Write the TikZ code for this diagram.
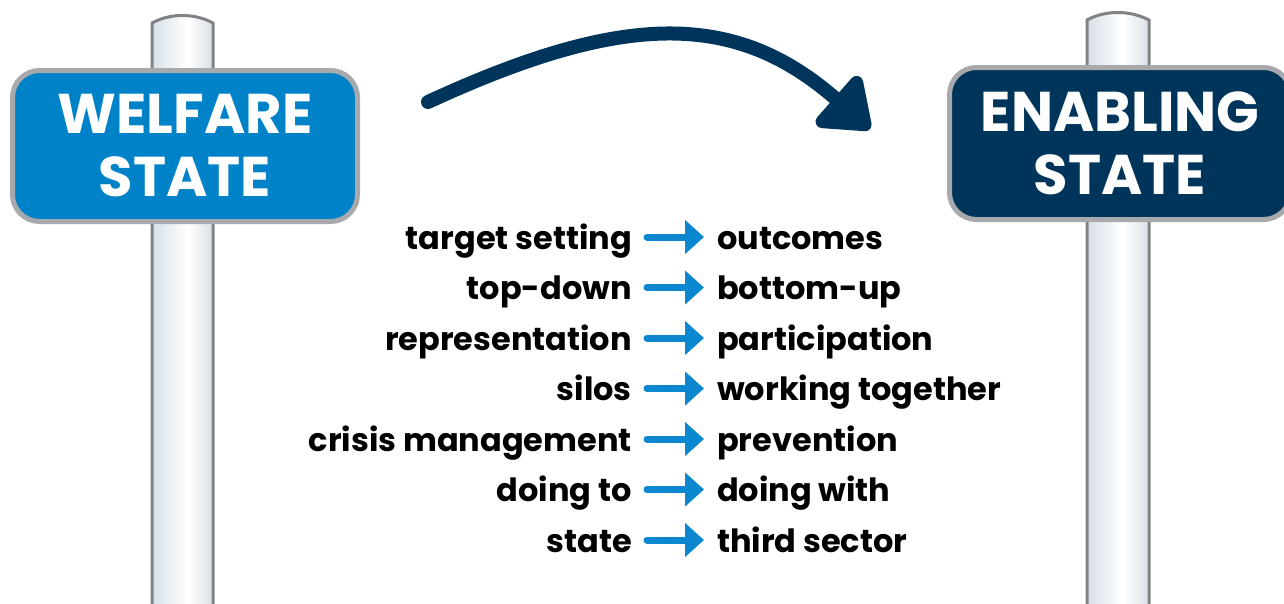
\documentclass[tikz,border=0pt]{standalone}
\usepackage{fontspec}
\setmainfont{Poppins}
\usepackage{tikz}
\usetikzlibrary{arrows.meta,positioning}

\definecolor{welfareblue}{HTML}{0082C8}
\definecolor{enablingnavy}{HTML}{00355B}
\definecolor{signgray}{HTML}{A7A9AC}
\definecolor{postedge}{HTML}{808285}
\definecolor{postblue}{HTML}{D8E1E7}
\definecolor{shiftblue}{HTML}{0A87CE}

\pgfdeclarehorizontalshading{postshade}{100bp}{color(0bp)=(postblue); color(25bp)=(postblue); color(54bp)=(white); color(75bp)=(postblue); color(100bp)=(postblue)}

\begin{document}
\begin{tikzpicture}[x=1pt, y=-1pt]
			\tikzstyle{Post}	= [shading=postshade, draw=postedge, line width=3]
			\tikzstyle{Sign}	= [draw=signgray, line width=5, rounded corners=27, align=center, text=white, inner sep=0pt,
						   font=\fontsize{56}{63}\selectfont\bfseries]
			\tikzstyle{Old}		= [anchor=base east, inner sep=0pt, text height=28, text depth=4, font=\fontsize{32}{36}\selectfont\bfseries]
			\tikzstyle{New}		= [anchor=base west, inner sep=0pt, text height=28, text depth=4, font=\fontsize{32}{36}\selectfont\bfseries]
			\tikzstyle{Shift}	= [shiftblue, line width=7, line cap=round, -{Triangle[length=19, width=33]}, shorten <=15, shorten >=13]
			\tikzstyle{Bend}	= [enablingnavy, line width=14, line cap=round, -{Triangle[length=52, width=75, round]}]

			\clip (0,0) rectangle (1284,603);

			% posts
			\path [Post] (152,606) -- (152,23) .. controls (170,13) and (195,13) .. (213,23) -- (213,606);
			\path [Post] (1087,606) -- (1087,20) .. controls (1105,10) and (1130,10) .. (1149,20) -- (1149,606);

			% signs
			\node (welfare) at (185,146) [Sign, fill=welfareblue, minimum width=345, minimum height=151] {WELFARE\\STATE};
			\node (enabling) at (1120,143.5) [Sign, fill=enablingnavy, minimum width=341, minimum height=152] {ENABLING\\STATE};

			% big arrow
			\coordinate (b1) at (428,102);
			\coordinate (b2) at (870,129);
			\draw [Bend] (b1) .. controls (625,11) and (736,11) .. (b2);

			% rows
			\foreach \i/\old/\new in {1/target setting/outcomes, 2/top-down/bottom-up, 3/representation/participation,
						4/silos/working together, 5/crisis management/prevention, 6/doing to/doing with, 7/state/third sector} {
				\node (o\i) at (632, 249+50.5*\i-50.5) [Old] {\old};
				\node (n\i) at (717, 249+50.5*\i-50.5) [New] {\new};
				\draw (o\i) -- (n\i) [Shift];
			}
		\end{tikzpicture}
\end{document}
